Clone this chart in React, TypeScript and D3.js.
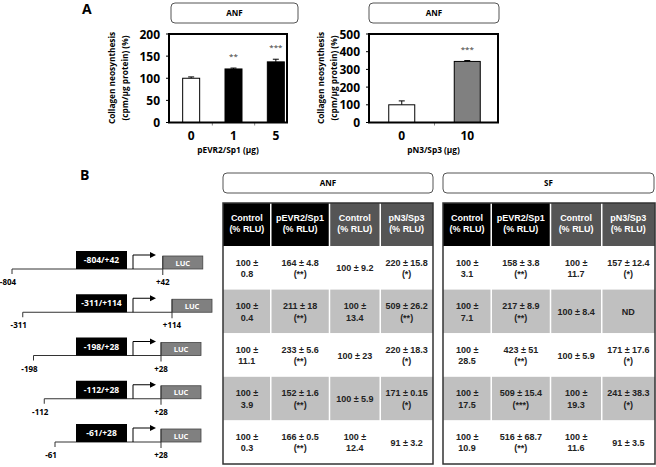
import React from 'react';
import * as d3 from 'd3';

// Panel A data
const doseA = ['0', '1', '5'];
const synthA = [100, 121, 137];
const errA = [3, 2, 6];
const starsA = ['', '**', '***'];
const ticksA = [0, 50, 100, 150, 200];

const doseB = ['0', '10'];
const synthB = [100, 345];
const errB = [22, 5];
const starsB = ['', '***'];
const ticksB = [0, 100, 200, 300, 400, 500];

// Panel B constructs
const constructs = ['-804/+42', '-311/+114', '-198/+28', '-112/+28', '-61/+28'];
const startLabels = ['-804', '-311', '-198', '-112', '-61'];
const endValues = [42, 114, 28, 28, 28];

// Tables
const headers = [['Control', '(% RLU)'], ['pEVR2/Sp1', '(% RLU)'], ['Control', '(% RLU)'], ['pN3/Sp3', '(% RLU)']];
const anfRows = [
  ['100 ±|0.8', '164 ± 4.8|(**)', '100 ± 9.2', '220 ± 15.8|(*)'],
  ['100 ±|0.4', '211 ± 18|(**)', '100 ±|13.4', '509 ± 26.2|(**)'],
  ['100 ±|11.1', '233 ± 5.6|(**)', '100 ± 23', '220 ± 18.3|(*)'],
  ['100 ±|3.9', '152 ± 1.6|(**)', '100 ± 5.9', '171 ± 0.15|(*)'],
  ['100 ±|0.3', '166 ± 0.5|(**)', '100 ±|12.4', '91 ± 3.2'],
];
const sfRows = [
  ['100 ±|3.1', '158 ± 3.8|(**)', '100 ±|11.7', '157 ± 12.4|(*)'],
  ['100 ±|7.1', '217 ± 8.9|(**)', '100 ± 8.4', 'ND'],
  ['100 ±|28.5', '423 ± 51|(**)', '100 ± 5.9', '171 ± 17.6|(*)'],
  ['100 ±|17.5', '509 ± 15.4|(***)', '100 ±|19.3', '241 ± 38.3|(*)'],
  ['100 ±|10.9', '516 ± 68.7|(**)', '100 ±|11.6', '91 ± 3.5'],
];

const cal = '"Open Sans", "Noto Sans", sans-serif';
const arial = '"Liberation Sans", Arial, sans-serif';

function LabelBox({ x, w, y, text }) {
  return (
    <g>
      <rect x={x} y={y} width={w} height={20} rx={4} fill="#fff" stroke="#555" strokeWidth={1} />
      <text x={x + w / 2} y={y + 13} textAnchor="middle" fontFamily={cal} fontWeight="bold" fontSize={8}>{text}</text>
    </g>
  );
}

function BarPanel({ cats, values, errs, stars, ticks, left, right, range, barW, fill, yMax, xTitle, titleX }) {
  const top = 34, bottom = 122.5;
  const x = d3.scaleBand().domain(cats).range(range);
  const y = d3.scaleLinear().domain([0, yMax]).range([bottom, top]);
  return (
    <g>
      <text transform={`translate(${titleX},78) rotate(-90)`} textAnchor="middle" fontFamily={cal} fontWeight="bold" fontSize={8.3}>
        <tspan x={0} y={0}>Collagen neosynthesis</tspan>
        <tspan x={0} y={12.5}>(cpm/µg protein) (%)</tspan>
      </text>
      {ticks.map(t => (
        <g key={t}>
          <line x1={left - 3} x2={left} y1={y(t)} y2={y(t)} stroke="#000" />
          <text x={left - 9} y={y(t) + 4.5} textAnchor="end" fontFamily={cal} fontWeight="bold" fontSize={12}>{t}</text>
        </g>
      ))}
      {cats.map((c, i) => {
        const cx = x(c) + x.bandwidth() / 2;
        return (
          <g key={c}>
            <line x1={cx} x2={cx} y1={y(values[i])} y2={y(values[i] + errs[i])} stroke="#000" />
            <line x1={cx - 3} x2={cx + 3} y1={y(values[i] + errs[i])} y2={y(values[i] + errs[i])} stroke="#000" />
            <rect x={cx - barW / 2} y={y(values[i])} width={barW} height={bottom - y(values[i])}
              fill={i === 0 ? '#fff' : fill} stroke="#000" strokeWidth={1} />
            <text x={cx} y={y(values[i] + errs[i]) - 9} textAnchor="middle" fontFamily={cal} fontSize={8} fill="#333">{stars[i]}</text>
            <text x={cx} y={140} textAnchor="middle" fontFamily={cal} fontWeight="bold" fontSize={12}>{c}</text>
          </g>
        );
      })}
      {cats.slice(1).map(c => (
        <line key={'t' + c} x1={x(c)} x2={x(c)} y1={bottom} y2={bottom + 3} stroke="#888" />
      ))}
      <rect x={left} y={top} width={right - left} height={bottom - top} fill="none" stroke="#000" strokeWidth={2} />
      <text x={(left + right) / 2} y={153} textAnchor="middle" fontFamily={cal} fontWeight="bold" fontSize={8.3}>{xTitle}</text>
    </g>
  );
}

function Table({ left, right, rows }) {
  const top = 203, headBottom = 246, bottom = 464;
  const weights = [48, 59, 51, 53];
  const cum = d3.cumsum(weights);
  const xs = d3.scaleLinear().domain([0, d3.sum(weights)]).range([left, right]);
  const colX = [left, ...Array.from(cum, v => xs(v))];
  const ry = d3.scaleBand().domain(d3.range(rows.length)).range([headBottom, bottom]);
  return (
    <g fontFamily={arial} fontWeight="bold">
      {headers.map((h, j) => (
        <g key={j}>
          <rect x={colX[j]} y={top} width={colX[j + 1] - colX[j]} height={headBottom - top} fill={j < 2 ? '#000' : '#555'} />
          <text x={(colX[j] + colX[j + 1]) / 2} y={221} textAnchor="middle" fill="#fff" fontSize={9}>{h[0]}</text>
          <text x={(colX[j] + colX[j + 1]) / 2} y={232} textAnchor="middle" fill="#fff" fontSize={9}>{h[1]}</text>
        </g>
      ))}
      {rows.map((r, i) => (
        <g key={i}>
          <rect x={left} y={ry(i)} width={right - left} height={ry.bandwidth()} fill={i % 2 ? '#c0c0c0' : '#fff'} />
          {r.map((cell, j) => {
            const lines = cell.split('|');
            const cx = (colX[j] + colX[j + 1]) / 2;
            const cy = ry(i) + ry.bandwidth() / 2;
            return lines.map((ln, k) => (
              <text key={j + '-' + k} x={cx} y={cy + 3.5 + (k - (lines.length - 1) / 2) * 11.5}
                textAnchor="middle" fontSize={9} fill="#222">{ln}</text>
            ));
          })}
        </g>
      ))}
      {colX.slice(1, -1).map((cx, j) => (
        <line key={j} x1={cx} x2={cx} y1={top} y2={bottom} stroke="#fff" strokeWidth={1.5} />
      ))}
      <rect x={left} y={top} width={right - left} height={bottom - top} fill="none" stroke="#333" strokeWidth={1.5} />
    </g>
  );
}

export default function App() {
  const rowY = d3.scalePoint().domain(constructs).range([269, 442]);
  const startX = d3.scalePoint().domain(constructs).range([12, 55]);
  const endX = d3.scaleLinear().domain([28, 114]).range([161, 172]);
  return (
    <svg width={656} height={467} style={{ position: 'absolute', left: 0, top: 0, background: '#fff' }}>
      <text x={82} y={14} fontFamily={cal} fontWeight="bold" fontSize={14}>A</text>
      <text x={80} y={180} fontFamily={cal} fontWeight="bold" fontSize={14}>B</text>

      <LabelBox x={171} w={127} y={3} text="ANF" />
      <LabelBox x={369} w={130} y={3} text="ANF" />

      <BarPanel cats={doseA} values={synthA} errs={errA} stars={starsA} ticks={ticksA}
        left={169} right={287} range={[170, 297]} barW={17} fill="#000" yMax={200}
        xTitle="pEVR2/Sp1 (µg)" titleX={115} />
      <BarPanel cats={doseB} values={synthB} errs={errB} stars={starsB} ticks={ticksB}
        left={369} right={498} range={[369, 500]} barW={26} fill="#808080" yMax={500}
        xTitle="pN3/Sp3 (µg)" titleX={324} />

      {constructs.map((c, i) => {
        const by = rowY(c);
        const sx = startX(c);
        const ex = endX(endValues[i]);
        return (
          <g key={c} fontFamily={cal} fontWeight="bold">
            <line x1={sx} x2={ex} y1={by} y2={by} stroke="#333" />
            <line x1={sx} x2={sx} y1={by} y2={by + 5} stroke="#333" />
            <rect x={76} y={by - 18} width={51} height={18} fill="#000" />
            <text x={101.5} y={by - 6} textAnchor="middle" fill="#fff" fontSize={8.5}>{c}</text>
            <path d={`M133,${by} V${by - 14} H152`} fill="none" stroke="#000" />
            <path d={`M156,${by - 14} L150,${by - 17} L150,${by - 11} Z`} fill="#000" />
            <rect x={ex} y={by - 13} width={40} height={13} fill="#808080" stroke="#444" strokeWidth={0.8} />
            <text x={ex + 20} y={by - 3.5} textAnchor="middle" fill="#fff" fontSize={7.5}>LUC</text>
            <line x1={ex} x2={ex} y1={by - 13} y2={by + 6} stroke="#333" />
            <text x={sx - 4} y={by + 16} textAnchor="middle" fontSize={8}>{startLabels[i]}</text>
            <text x={ex} y={by + 16} textAnchor="middle" fontSize={8}>{'+' + endValues[i]}</text>
          </g>
        );
      })}

      <LabelBox x={223} w={210} y={173} text="ANF" />
      <LabelBox x={443} w={211} y={173} text="SF" />
      <Table left={223} right={433} rows={anfRows} />
      <Table left={443} right={655} rows={sfRows} />
    </svg>
  );
}
